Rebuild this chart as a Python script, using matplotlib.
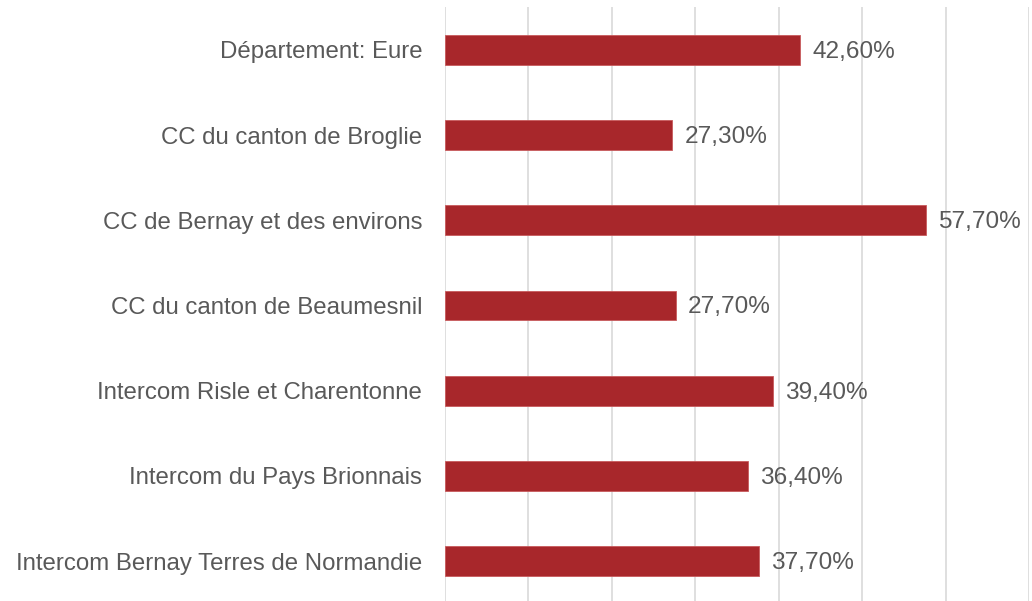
import matplotlib.pyplot as plt

plt.rcParams['font.family'] = ['Liberation Sans', 'DejaVu Sans']

categories = [
    "Département: Eure",
    "CC du canton de Broglie",
    "CC de Bernay et des environs",
    "CC du canton de Beaumesnil",
    "Intercom Risle et Charentonne",
    "Intercom du Pays Brionnais",
    "Intercom Bernay Terres de Normandie",
]
values = [42.6, 27.3, 57.7, 27.7, 39.4, 36.4, 37.7]
labels = ["42,60%", "27,30%", "57,70%", "27,70%", "39,40%", "36,40%", "37,70%"]

W, H = 1032, 601
fig = plt.figure(figsize=(W / 100, H / 100), dpi=100)
# axes placed in pixel terms
left, right = 444.5, 1029
top, bottom = 7.4, 603.6
ax = fig.add_axes([left / W, (H - bottom) / H, (right - left) / W, (bottom - top) / H])

bar_color = '#A8272B'
text_color = '#595959'

ypos = list(range(len(categories)))
ax.barh(ypos, values, height=0.35, color=bar_color, edgecolor='#C85A5C', linewidth=0.6, zorder=3)
ax.set_ylim(len(categories) - 0.5, -0.5)
ax.set_xlim(0, 70)

for y, v, lab in zip(ypos, values, labels):
    ax.annotate(lab, (v, y), xytext=(12, -2), textcoords='offset pixels',
                va='center', ha='left', fontsize=17.6, color=text_color)

ax.set_yticks(ypos)
ax.set_yticklabels(categories, fontsize=17.3, color=text_color)
ax.tick_params(axis='y', length=0, pad=16)
ax.set_xticks(range(0, 71, 10))
ax.tick_params(axis='x', length=0, labelbottom=False)
ax.grid(axis='x', color='#D9D9D9', linewidth=1.2, zorder=0)
for s in ax.spines.values():
    s.set_visible(False)

fig.savefig('out.png', dpi=100)
